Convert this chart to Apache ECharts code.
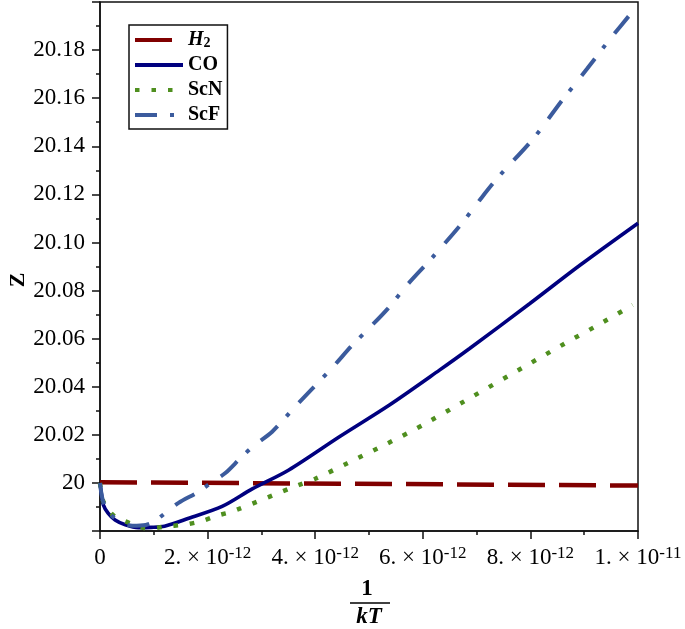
<!DOCTYPE html>
<html><head><meta charset="utf-8">
<script src="https://cdn.jsdelivr.net/npm/echarts@6/dist/echarts.min.js"></script>
<style>html,body{margin:0;padding:0;background:#fff}#c{width:685px;height:629px}</style>
</head><body><div id="c"></div>
<script>
// x values are in units of 1e-12 (1/kT)
const seriesNames = ['H2', 'CO', 'ScN', 'ScF'];
const h2X = [0, 10];
const h2Y = [20.0003, 19.9989];
const coX = [0, 0.03, 0.06, 0.15, 0.28, 0.47, 0.71, 0.95, 1.2, 1.65, 2.27, 2.83, 3.51, 4.45, 5.38, 6.31, 6.87, 7.99, 8.92, 10];
const coY = [20.000, 19.995, 19.991, 19.9874, 19.9846, 19.9826, 19.9814, 19.9815, 19.982, 19.9853, 19.9902, 19.9975, 20.0054, 20.0192, 20.0324, 20.0469, 20.0559, 20.0746, 20.0905, 20.108];
const scnX = [0, 0.05, 0.15, 0.28, 0.59, 0.9, 1.21, 1.55, 1.87, 2.18, 2.49, 3.7, 4.0, 4.6, 5.19, 5.77, 6.06, 8.64, 9.22, 9.79, 9.9];
const scnY = [20.000, 19.993, 19.989, 19.986, 19.983, 19.981, 19.9819, 19.9826, 19.984, 19.9864, 19.9884, 19.9992, 20.0017, 20.0082, 20.0147, 20.0213, 20.0248, 20.058, 20.0652, 20.0725, 20.074];
const scfX = [0, 0.05, 0.15, 0.3, 0.6, 0.85, 1.0, 1.21, 1.46, 1.83, 2.08, 2.33, 2.61, 2.86, 3.2, 3.61, 3.92, 4.32, 4.69, 5.04, 5.35, 5.72, 6.16, 6.72, 7.06, 7.4, 8.05, 8.61, 9.05, 9.48, 9.95];
const scfY = [20.000, 19.993, 19.988, 19.985, 19.9822, 19.9825, 19.9838, 19.9874, 19.9917, 19.9963, 20.0003, 20.0041, 20.0103, 20.0155, 20.0213, 20.0313, 20.0386, 20.048, 20.0573, 20.0652, 20.0725, 20.0826, 20.0933, 20.1078, 20.1177, 20.1271, 20.1431, 20.1597, 20.1721, 20.1846, 20.1974];

const xTickValues = [0, 2, 4, 6, 8, 10];
const xTickMantissa = ['0', '2.', '4.', '6.', '8.', '1.'];
const xTickExponent = ['', '-12', '-12', '-12', '-12', '-11'];
const yTickValues = [20, 20.02, 20.04, 20.06, 20.08, 20.10, 20.12, 20.14, 20.16, 20.18];
const yTickLabels = ['20', '20.02', '20.04', '20.06', '20.08', '20.10', '20.12', '20.14', '20.16', '20.18'];

const zip = (xs, ys) => xs.map((x, i) => [x, ys[i]]);
const FONT = 'Liberation Serif';
const AX = '#111';

const chart = echarts.init(document.getElementById('c'), null, {renderer: 'canvas'});
chart.setOption({
  animation: false,
  backgroundColor: '#fff',
  grid: {left: 100, right: 47, top: 2, bottom: 98, show: true, borderColor: AX, borderWidth: 1.5, backgroundColor: 'transparent'},
  xAxis: {
    type: 'value', min: 0, max: 10, interval: 2,
    axisLine: {show: true, onZero: false, lineStyle: {color: AX, width: 1.5}},
    axisTick: {show: true, inside: false, length: 8, lineStyle: {color: AX, width: 1.5}},
    minorTick: {show: true, splitNumber: 2, length: 4, lineStyle: {color: AX, width: 1.5}},
    splitLine: {show: false},
    axisLabel: {
      margin: 14, color: '#000',
      formatter: function (v) {
        const i = xTickValues.findIndex(t => Math.abs(t - v) < 1e-9);
        if (i < 0) return '';
        if (!xTickExponent[i]) return '{b|' + xTickMantissa[i] + '}';
        return '{b|' + xTickMantissa[i] + ' \u00d7 10}{s|' + xTickExponent[i] + '}';
      },
      rich: {
        b: {fontFamily: FONT, fontSize: 23, color: '#000', lineHeight: 26},
        s: {fontFamily: FONT, fontSize: 17, color: '#000', lineHeight: 14, verticalAlign: 'top'}
      }
    }
  },
  yAxis: {
    type: 'value', min: 19.98, max: 20.2, interval: 0.02,
    axisLine: {show: true, onZero: false, lineStyle: {color: AX, width: 1.5}},
    axisTick: {show: true, inside: false, length: 8, lineStyle: {color: AX, width: 1.5}},
    minorTick: {show: true, splitNumber: 2, length: 4, lineStyle: {color: AX, width: 1.5}},
    splitLine: {show: false},
    axisLabel: {
      margin: 15, color: '#000', fontFamily: FONT, fontSize: 23,
      formatter: function (v) {
        const i = yTickValues.findIndex(t => Math.abs(t - v) < 1e-9);
        return i < 0 ? '' : yTickLabels[i];
      }
    }
  },
  legend: {
    orient: 'vertical', left: 129, top: 25,
    itemWidth: 48, itemHeight: 14, itemGap: 5,
    padding: [5, 5, 4, 4],
    borderColor: AX, borderWidth: 1.5, backgroundColor: '#fff',
    selectedMode: false,
    lineStyle: {width: 4},
    itemStyle: {opacity: 0, borderWidth: 0},
    data: seriesNames,
    formatter: function (name) {
      return name === 'H2' ? '{h|H}{s|2}' : name;
    },
    textStyle: {
      fontFamily: FONT, fontWeight: 'bold', fontSize: 20, color: '#000', lineHeight: 20,
      rich: {
        h: {fontFamily: FONT, fontWeight: 'bold', fontStyle: 'italic', fontSize: 20, color: '#000', lineHeight: 20},
        s: {fontFamily: FONT, fontWeight: 'bold', fontSize: 14, color: '#000', lineHeight: 8, verticalAlign: 'bottom'}
      }
    }
  },
  graphic: [
    {type: 'text', x: 18, y: 280, rotation: Math.PI / 2,
     style: {text: 'Z', fontFamily: FONT, fontWeight: 'bold', fontSize: 22, fill: '#000', align: 'center', verticalAlign: 'middle'}},
    {type: 'text', x: 367, y: 589,
     style: {text: '1', fontFamily: FONT, fontWeight: 'bold', fontSize: 23, fill: '#000', align: 'center', verticalAlign: 'middle'}},
    {type: 'line', shape: {x1: 350, y1: 603, x2: 390, y2: 603}, style: {stroke: '#000', lineWidth: 1.6}},
    {type: 'text', x: 369, y: 617,
     style: {text: 'kT', fontFamily: FONT, fontWeight: 'bold', fontStyle: 'italic', fontSize: 23, fill: '#000', align: 'center', verticalAlign: 'middle'}}
  ],
  series: [
    {name: 'H2', type: 'line', data: zip(h2X, h2Y), symbol: 'none', smooth: false,
     lineStyle: {color: '#800000', width: 4.5, type: [37, 14], cap: 'butt'}, itemStyle: {color: '#800000'}},
    {name: 'CO', type: 'line', data: zip(coX, coY), symbol: 'none', smooth: 0.3,
     lineStyle: {color: '#00007f', width: 3.6, type: 'solid'}, itemStyle: {color: '#00007f'}},
    {name: 'ScN', type: 'line', data: zip(scnX, scnY), symbol: 'none', smooth: 0.3,
     lineStyle: {color: '#4f8f1f', width: 4.5, type: [4.5, 12], cap: 'butt'}, itemStyle: {color: '#4f8f1f'}},
    {name: 'ScF', type: 'line', data: zip(scfX, scfY), symbol: 'none', smooth: 0.3,
     lineStyle: {color: '#3b5b9d', width: 4, type: [22, 13, 4, 15], cap: 'butt'}, itemStyle: {color: '#3b5b9d'}}
  ]
});
</script>
</body></html>
